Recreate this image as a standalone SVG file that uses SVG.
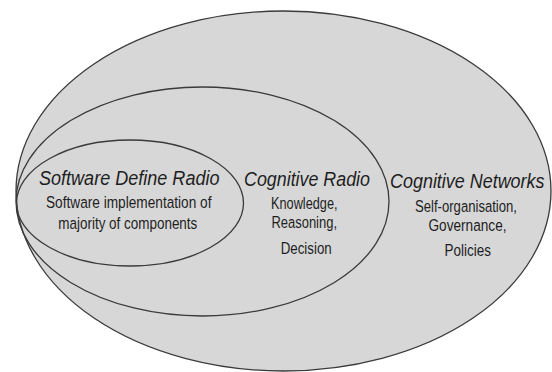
<svg xmlns="http://www.w3.org/2000/svg" width="552" height="372" viewBox="0 0 552 372">
<style>
.ring{fill:#d7d7d7;stroke:#3a3a3a;stroke-width:1.3}
.inner{fill:none;stroke:#3a3a3a;stroke-width:1.3}
.title{font-family:"Liberation Sans Narrow","Liberation Sans",Arial,sans-serif;font-style:italic;font-size:20.5px;fill:#1e1e1e}
.body{font-family:"Liberation Sans Narrow","Liberation Sans",Arial,sans-serif;font-size:16.8px;fill:#1e1e1e}
</style>
<rect width="552" height="372" fill="#ffffff"/>
<g id="cognitive-networks">
<ellipse class="ring" cx="283.5" cy="191" rx="267.5" ry="180"/>
<text class="title" x="390" y="188" textLength="154.5" lengthAdjust="spacingAndGlyphs">Cognitive Networks</text>
<text class="body" x="415" y="211.5" textLength="102" lengthAdjust="spacingAndGlyphs">Self-organisation,</text>
<text class="body" x="428.5" y="230.5" textLength="78" lengthAdjust="spacingAndGlyphs">Governance,</text>
<text class="body" x="444.5" y="255.5" textLength="46.5" lengthAdjust="spacingAndGlyphs">Policies</text>
</g>
<g id="cognitive-radio">
<ellipse class="inner" cx="202.5" cy="201.5" rx="186.5" ry="114.5"/>
<text class="title" x="244" y="185.5" textLength="126" lengthAdjust="spacingAndGlyphs">Cognitive Radio</text>
<text class="body" x="271" y="209.3" textLength="66.5" lengthAdjust="spacingAndGlyphs">Knowledge,</text>
<text class="body" x="271.5" y="228.3" textLength="65.5" lengthAdjust="spacingAndGlyphs">Reasoning,</text>
<text class="body" x="280.7" y="254.3" textLength="51" lengthAdjust="spacingAndGlyphs">Decision</text>
</g>
<g id="software-define-radio">
<ellipse class="inner" cx="130" cy="203" rx="113.5" ry="63"/>
<text class="title" x="39" y="185" textLength="180.5" lengthAdjust="spacingAndGlyphs">Software Define Radio</text>
<text class="body" x="46" y="207.7" textLength="165.5" lengthAdjust="spacingAndGlyphs">Software implementation of</text>
<text class="body" x="58.3" y="229" textLength="139" lengthAdjust="spacingAndGlyphs">majority of components</text>
</g>
<g id="connectors"></g>
</svg>
